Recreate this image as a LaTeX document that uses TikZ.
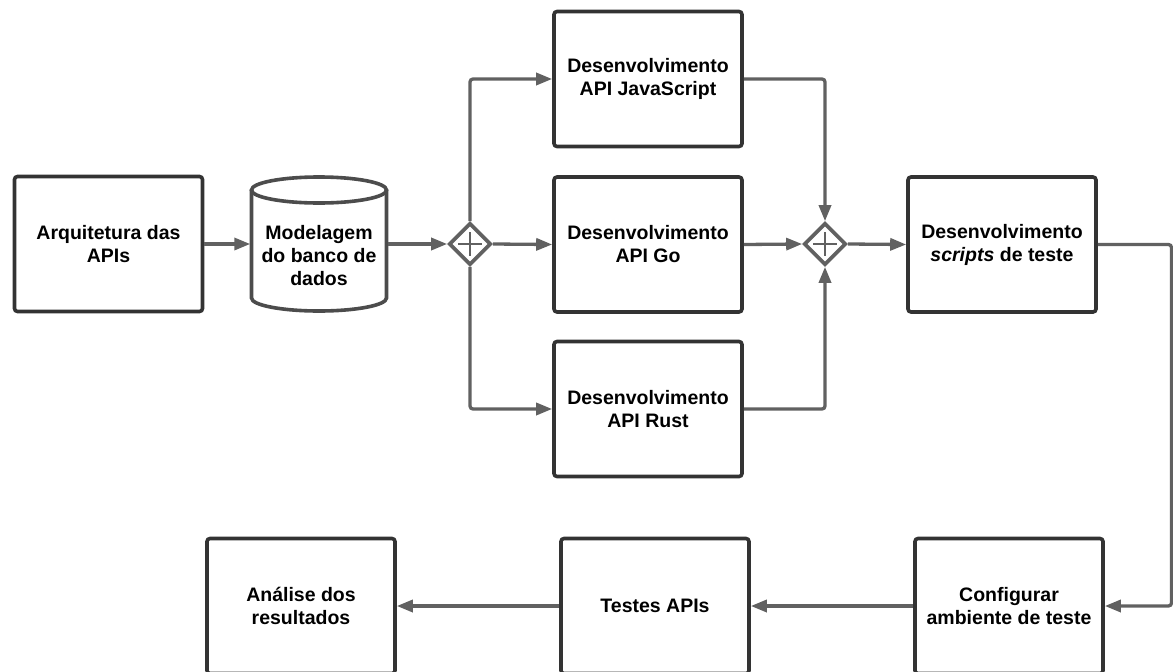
\documentclass[tikz,border=0pt]{standalone}
\usepackage{fontspec}
\setmainfont{Liberation Sans}
\usetikzlibrary{shapes.geometric,arrows.meta}
\begin{document}
\begin{tikzpicture}[x=1pt,y=-1pt,
  stepbox/.style={draw=black!80, line width=3.6pt, rounded corners=3pt, minimum width=188pt, minimum height=135pt, inner sep=0pt, align=center, font=\fontsize{19.5}{23}\selectfont\bfseries},
  gate/.style={diamond, draw=black!62, line width=3.6pt, minimum width=42pt, minimum height=42pt, inner sep=0pt},
  conn/.style={draw=black!62, line width=3.3pt, rounded corners=3pt, -{Triangle[length=16pt,width=12pt]}},
  plus/.style={draw=black!62, line width=1.5pt}
]
\useasboundingbox (0,0) rectangle (1173,672);
\clip (0,0) rectangle (1173,672);

\node[stepbox] (arq) at (108.5,244) {Arquitetura das\\APIs};

% cylinder
\draw[draw=black!70, line width=3.6pt] (251.5,190) -- (251.5,298) arc[start angle=180, end angle=360, x radius=67.5pt, y radius=13pt] -- (386.5,190);
\draw[draw=black!70, line width=3.6pt] (319,190) ellipse [x radius=67.5pt, y radius=13pt];
\node[minimum width=137pt, minimum height=136pt, inner sep=0pt] (db) at (319,244) {};
\node[align=center, font=\fontsize{19.5}{23}\selectfont\bfseries] (dbtext) at (319,256) {Modelagem\\do banco de\\dados};

\node[gate] (g1) at (470,244) {};
\draw[plus] (458,244) -- (482,244) (470,232) -- (470,256);

\node[stepbox] (js) at (648,79) {Desenvolvimento\\API JavaScript};
\node[stepbox] (go) at (648,244.5) {Desenvolvimento\\API Go};
\node[stepbox] (rust) at (648,409) {Desenvolvimento\\API Rust};

\node[gate] (g2) at (825,244) {};
\draw[plus] (813,244) -- (837,244) (825,232) -- (825,256);

\node[stepbox] (scr) at (1002,244.5) {Desenvolvimento\\\textit{scripts} de teste};

\node[stepbox] (conf) at (1009,606) {Configurar\\ambiente de teste};
\node[stepbox] (test) at (655,606) {Testes APIs};
\node[stepbox] (ana) at (301,606) {Análise dos\\resultados};

\coordinate (rt) at (1171.5,244.5);

\draw[conn] (arq.east) -- (db.west);
\draw[conn] (db.east) -- (g1.west);
\draw[conn] (g1.north) |- (js.west);
\draw[conn] (g1.east) -- (go.west);
\draw[conn] (g1.south) |- (rust.west);
\draw[conn] (js.east) -| (g2.north);
\draw[conn] (go.east) -- (g2.west);
\draw[conn] (rust.east) -| (g2.south);
\draw[conn] (g2.east) -- (scr.west);
\draw[conn] (scr.east) -- (rt) |- (conf.east);
\draw[conn] (conf.west) -- (test.east);
\draw[conn] (test.west) -- (ana.east);
\end{tikzpicture}
\end{document}
